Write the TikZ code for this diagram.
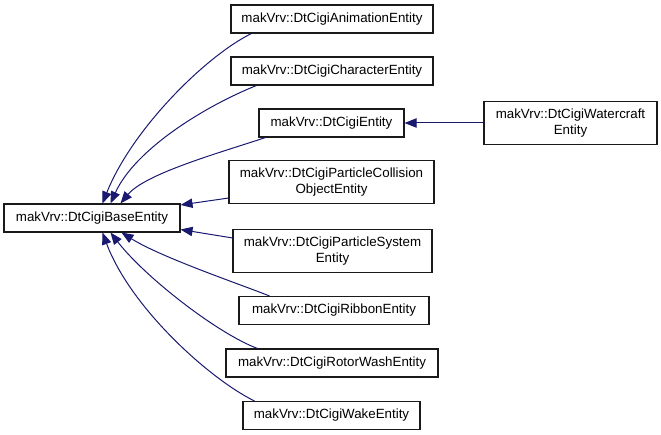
\documentclass[tikz,border=0pt]{standalone}
\usepackage{fontspec}
\setmainfont{Liberation Sans}
\usepackage{tikz}
\usepackage{xcolor}
\usetikzlibrary{arrows.meta,positioning,calc}
\definecolor{ink}{HTML}{1A1A1A}
\definecolor{edgeblue}{HTML}{191970}
\tikzset{
  classbox/.style={draw=ink,fill=white,line width=0.8pt,align=center,
                   inner sep=1pt,minimum height=21pt,font=\fontsize{10}{12}\selectfont},
  twolinebox/.style={classbox,minimum height=32.25pt},
  inheritarr/.style={-{Triangle[length=9pt,width=7pt]},line width=0.75pt,
                     draw=edgeblue}
}

\begin{document}
\begin{tikzpicture}[x=0.75pt,y=0.75pt]
        \path[use as bounding box] (0,0) rectangle (661,-435);
        \node[classbox,minimum width=132pt] (base) at (92,-218) {makVrv::DtCigiBaseEntity};
        \node[classbox,minimum width=151.5pt] (anim) at (332,-19) {makVrv::DtCigiAnimationEntity};
        \node[classbox,minimum width=151.5pt] (chara) at (332,-71) {makVrv::DtCigiCharacterEntity};
        \node[classbox,minimum width=108.75pt] (ent) at (331.5,-123) {makVrv::DtCigiEntity};
        \node[twolinebox,minimum width=129.75pt] (water) at (570.5,-123)
          {makVrv::DtCigiWatercraft\\Entity};
        \node[twolinebox,minimum width=153.75pt] (pcoll) at (331.5,-182)
          {makVrv::DtCigiParticleCollision\\ObjectEntity};
        \node[twolinebox,minimum width=149.25pt] (psys) at (332.5,-251)
          {makVrv::DtCigiParticleSystem\\Entity};
        \node[classbox,minimum width=142.5pt] (ribbon) at (334,-310.5) {makVrv::DtCigiRibbonEntity};
        \node[classbox,minimum width=159pt] (rotor) at (332,-363) {makVrv::DtCigiRotorWashEntity};
        \node[classbox,minimum width=132.75pt] (wake) at (331.5,-415.5) {makVrv::DtCigiWakeEntity};

        \draw[inheritarr] ($(anim.south west)+(21,0)$) .. controls +(-45,-22) and +(30,75)
          .. ($(base.north west)+(99,0)$);
        \draw[inheritarr] ($(chara.south west)+(26,0)$) .. controls +(-50,-20) and +(25,55)
          .. ($(base.north west)+(107,0)$);
        \draw[inheritarr] ($(ent.south west)+(7,0)$) .. controls +(-45,-15) and +(25,30)
          .. ($(base.north west)+(117,0)$);
        \draw[inheritarr] ($(pcoll.south west)+(0,6)$) -- ($(base.north east)+(0,-1.5)$);
        \draw[inheritarr] ($(psys.north west)+(0,-9)$) -- ($(base.south east)+(0,3)$);
        \draw[inheritarr] ($(ribbon.north west)+(31,0)$) .. controls +(-30,12) and +(40,-25)
          .. ($(base.south west)+(118,0)$);
        \draw[inheritarr] ($(rotor.north west)+(32,0)$) .. controls +(-40,15) and +(35,-45)
          .. ($(base.south west)+(107,0)$);
        \draw[inheritarr] ($(wake.north west)+(12,0)$) .. controls +(-45,22) and +(28,-75)
          .. ($(base.south west)+(99,0)$);
        \draw[inheritarr] (water.west) -- (ent.east);
      \end{tikzpicture}
\end{document}
